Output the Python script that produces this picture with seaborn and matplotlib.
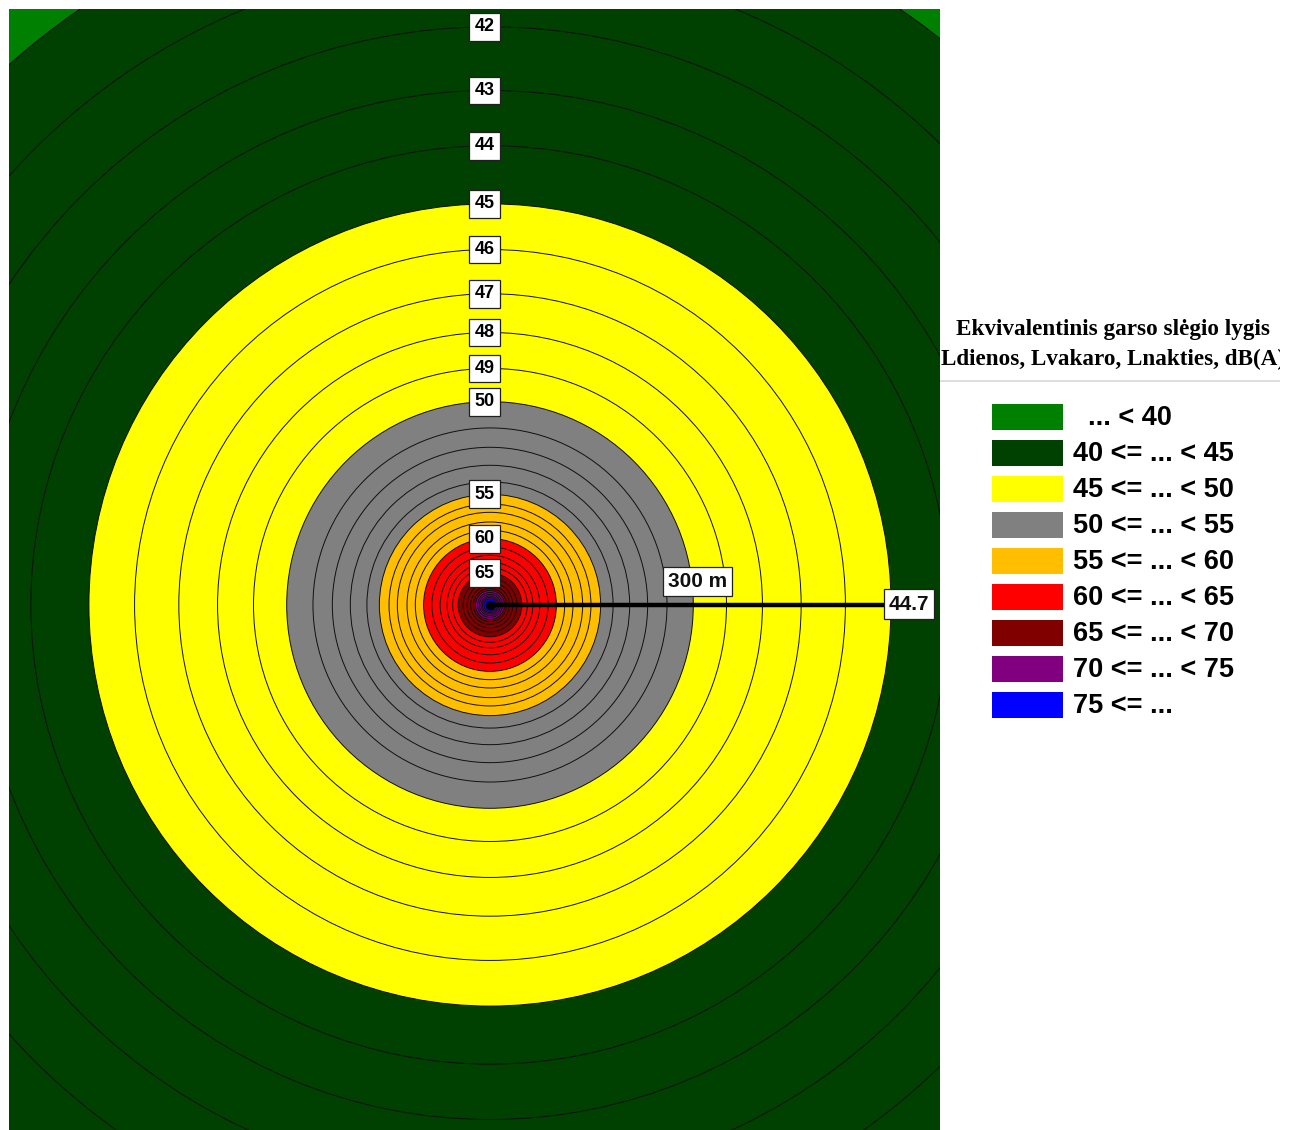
import matplotlib
matplotlib.use("Agg")
import matplotlib.pyplot as plt
import matplotlib.patches as mpatches
import seaborn as sns
import pandas as pd

# Contour levels (dB(A)) and their radii from the source (m)
levels = list(range(40, 76))
radii_m = [523, 466, 418, 372, 332, 290, 257, 225, 197, 171,
           147, 128, 114, 101, 89, 80, 73, 67, 60, 54,
           48, 42, 36, 31, 27, 23, 19.5, 16.5, 14, 12,
           10.5, 9, 7.7, 6.5, 5.5, 4.5]

# legend classes
band_colors = ['#008000', '#004000', '#ffff00', '#808080', '#ffbf00',
               '#ff0000', '#800000', '#800080', '#0000ff']
band_labels = ['  ... < 40', '40 <= ... < 45', '45 <= ... < 50', '50 <= ... < 55',
               '55 <= ... < 60', '60 <= ... < 65', '65 <= ... < 70',
               '70 <= ... < 75', '75 <= ...']

label_levels = [42, 43, 44, 45, 46, 47, 48, 49, 50, 55, 60, 65]

receptor_dist = 300
receptor_value = 44.7

sns.set_theme(style="white")
plt.rcParams['font.family'] = ['Liberation Sans', 'DejaVu Sans']
plt.rcParams['text.color'] = 'black'

fig = plt.figure(figsize=(12.96, 11.30), dpi=100)
fig.patch.set_facecolor('white')

# map axes (pixel 9..940 x 9..1130, 300 m ~ 415 px)
ax = fig.add_axes([9 / 1296, 0, 931 / 1296, 1121 / 1130])
ax.set_xlim(-347.8, 325.4)
ax.set_ylim(-379.6, 430.9)
ax.set_facecolor(band_colors[0])
ax.set_xticks([])
ax.set_yticks([])
for s in ax.spines.values():
    s.set_visible(False)

# filled rings, outer to inner
for i, (lev, r) in enumerate(zip(levels, radii_m)):
    col = band_colors[(lev - 40) // 5 + 1]
    ax.add_patch(mpatches.Circle((0, 0), r, facecolor=col, edgecolor='#101010',
                                 linewidth=0.7, zorder=2 + i * 0.01))

# measurement line to receptor point
line_df = pd.DataFrame({'x': [0, receptor_dist], 'y': [0, 0]})
sns.lineplot(data=line_df, x='x', y='y', color='black', linewidth=3.2,
             ax=ax, zorder=5, sort=False)
sns.scatterplot(x=[0], y=[0], color='black', s=40, ax=ax, zorder=5,
                edgecolor='black')
ax.set_xlabel('')
ax.set_ylabel('')

box = dict(boxstyle='square,pad=0.3', facecolor='white', edgecolor='#202020', linewidth=0.9)
for lev in label_levels:
    r = radii_m[levels.index(lev)]
    ax.text(-4, r, str(lev), ha='center', va='center', fontsize=13,
            fontweight='bold', color='black', bbox=box, zorder=6)

big_box = dict(boxstyle='square,pad=0.25', facecolor='white', edgecolor='#202020', linewidth=0.9)
ax.text(receptor_dist / 2, 17, f'{receptor_dist} m', ha='center', va='center',
        fontsize=15, fontweight='bold', color='#101010', bbox=big_box, zorder=6)
ax.text(receptor_dist + 3, 0.7, f'{receptor_value}', ha='center', va='center',
        fontsize=15, fontweight='bold', color='#101010', bbox=big_box, zorder=6)

# legend panel
lax = fig.add_axes([940 / 1296, 0, 340 / 1296, 1])
lax.set_xlim(940, 1280)
lax.set_ylim(1130, 0)
lax.axis('off')
lax.text(1113, 330, 'Ekvivalentinis garso slėgio lygis', ha='center', va='center',
         fontsize=16.7, fontweight='bold', family='Liberation Serif', clip_on=True)
lax.text(941, 359, 'Ldienos, Lvakaro, Lnakties, dB(A)', ha='left', va='center',
         fontsize=16.7, fontweight='bold', family='Liberation Serif', clip_on=True)
lax.plot([940, 1280], [381, 381], color='#d8d8d8', linewidth=1.2)

for i, (col, lab) in enumerate(zip(band_colors, band_labels)):
    yc = 417 + 36 * i
    lax.add_patch(mpatches.Rectangle((992, yc - 13), 71, 26, facecolor=col,
                                     edgecolor='none'))
    lax.text(1073, yc + 1, lab, ha='left', va='center', fontsize=19.5,
             fontweight='bold', color='black')

fig.savefig('out.png', dpi=100, facecolor='white')
